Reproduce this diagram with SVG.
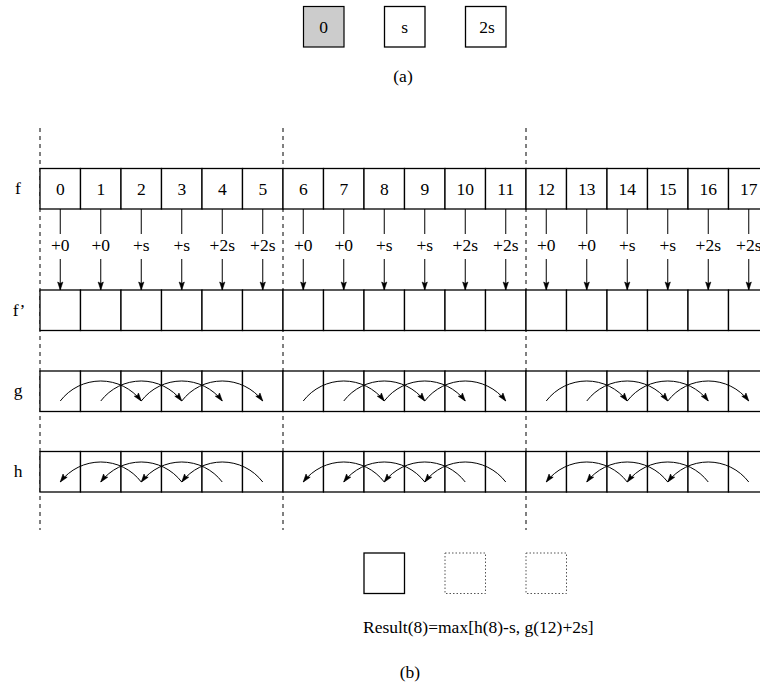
<svg xmlns="http://www.w3.org/2000/svg" width="760" height="688" viewBox="0 0 760 688">
<style>
text{font-family:'Liberation Serif','DejaVu Serif',serif;font-size:17.5px;fill:#000;text-anchor:middle}
.c{fill:#fff;stroke:#000;stroke-width:1.3}
.dot{fill:#fff;stroke:#555;stroke-width:1;stroke-dasharray:1.5 2}
.dash{stroke:#000;stroke-width:1;stroke-dasharray:4 4;fill:none}
.ln{stroke:#000;stroke-width:1;fill:none}
.ar{stroke:#000;stroke-width:1;fill:none;marker-end:url(#ah)}
</style>
<defs>
<marker id="ah" viewBox="-9 -4 10 8" refX="0" refY="0" markerWidth="10" markerHeight="8" markerUnits="userSpaceOnUse" orient="auto">
<path d="M0,0 L-8,-2.6 L-6.5,0 L-8,2.6 z" fill="#000" stroke="#000" stroke-width="0.6"/>
</marker>
</defs>
<rect width="760" height="688" fill="#fff"/>

<g id="legend">
<g id="box0"><rect x="303.5" y="6.5" width="40.5" height="40.5" fill="#cccccc" stroke="#000" stroke-width="1.2"/><text x="323.7" y="33">0</text></g>
<g id="boxs"><rect x="384.5" y="6.5" width="40.5" height="40.5" class="c"/><text x="404.7" y="33">s</text></g>
<g id="box2s"><rect x="465.5" y="6.5" width="40.5" height="40.5" class="c"/><text x="487" y="33">2s</text></g>
<text id="label-a" x="403" y="82">(a)</text>
</g>

<g id="separators">
<line class="dash" x1="40" y1="128" x2="40" y2="530"/>
<line class="dash" x1="283" y1="128" x2="283" y2="530"/>
<line class="dash" x1="526" y1="128" x2="526" y2="530"/>
</g>

<g id="row-labels">
<text x="18" y="194">f</text>
<text x="19" y="316">f’</text>
<text x="18" y="396">g</text>
<text x="18" y="477">h</text>
</g>

<g id="row-f">
<g id="f0"><rect class="c" x="40" y="168.5" width="40.5" height="40.5"/><text x="60.25" y="195">0</text></g>
<g id="f1"><rect class="c" x="80.5" y="168.5" width="40.5" height="40.5"/><text x="100.75" y="195">1</text></g>
<g id="f2"><rect class="c" x="121" y="168.5" width="40.5" height="40.5"/><text x="141.25" y="195">2</text></g>
<g id="f3"><rect class="c" x="161.5" y="168.5" width="40.5" height="40.5"/><text x="181.75" y="195">3</text></g>
<g id="f4"><rect class="c" x="202" y="168.5" width="40.5" height="40.5"/><text x="222.25" y="195">4</text></g>
<g id="f5"><rect class="c" x="242.5" y="168.5" width="40.5" height="40.5"/><text x="262.75" y="195">5</text></g>
<g id="f6"><rect class="c" x="283" y="168.5" width="40.5" height="40.5"/><text x="303.25" y="195">6</text></g>
<g id="f7"><rect class="c" x="323.5" y="168.5" width="40.5" height="40.5"/><text x="343.75" y="195">7</text></g>
<g id="f8"><rect class="c" x="364" y="168.5" width="40.5" height="40.5"/><text x="384.25" y="195">8</text></g>
<g id="f9"><rect class="c" x="404.5" y="168.5" width="40.5" height="40.5"/><text x="424.75" y="195">9</text></g>
<g id="f10"><rect class="c" x="445" y="168.5" width="40.5" height="40.5"/><text x="465.25" y="195">10</text></g>
<g id="f11"><rect class="c" x="485.5" y="168.5" width="40.5" height="40.5"/><text x="505.75" y="195">11</text></g>
<g id="f12"><rect class="c" x="526" y="168.5" width="40.5" height="40.5"/><text x="546.25" y="195">12</text></g>
<g id="f13"><rect class="c" x="566.5" y="168.5" width="40.5" height="40.5"/><text x="586.75" y="195">13</text></g>
<g id="f14"><rect class="c" x="607" y="168.5" width="40.5" height="40.5"/><text x="627.25" y="195">14</text></g>
<g id="f15"><rect class="c" x="647.5" y="168.5" width="40.5" height="40.5"/><text x="667.75" y="195">15</text></g>
<g id="f16"><rect class="c" x="688" y="168.5" width="40.5" height="40.5"/><text x="708.25" y="195">16</text></g>
<g id="f17"><rect class="c" x="728.5" y="168.5" width="40.5" height="40.5"/><text x="748.75" y="195">17</text></g>
</g>

<g id="row-fp">
<rect id="fp0" class="c" x="40" y="290" width="40.5" height="40.5"/>
<rect id="fp1" class="c" x="80.5" y="290" width="40.5" height="40.5"/>
<rect id="fp2" class="c" x="121" y="290" width="40.5" height="40.5"/>
<rect id="fp3" class="c" x="161.5" y="290" width="40.5" height="40.5"/>
<rect id="fp4" class="c" x="202" y="290" width="40.5" height="40.5"/>
<rect id="fp5" class="c" x="242.5" y="290" width="40.5" height="40.5"/>
<rect id="fp6" class="c" x="283" y="290" width="40.5" height="40.5"/>
<rect id="fp7" class="c" x="323.5" y="290" width="40.5" height="40.5"/>
<rect id="fp8" class="c" x="364" y="290" width="40.5" height="40.5"/>
<rect id="fp9" class="c" x="404.5" y="290" width="40.5" height="40.5"/>
<rect id="fp10" class="c" x="445" y="290" width="40.5" height="40.5"/>
<rect id="fp11" class="c" x="485.5" y="290" width="40.5" height="40.5"/>
<rect id="fp12" class="c" x="526" y="290" width="40.5" height="40.5"/>
<rect id="fp13" class="c" x="566.5" y="290" width="40.5" height="40.5"/>
<rect id="fp14" class="c" x="607" y="290" width="40.5" height="40.5"/>
<rect id="fp15" class="c" x="647.5" y="290" width="40.5" height="40.5"/>
<rect id="fp16" class="c" x="688" y="290" width="40.5" height="40.5"/>
<rect id="fp17" class="c" x="728.5" y="290" width="40.5" height="40.5"/>
</g>

<g id="row-g">
<rect id="g0" class="c" x="40" y="371" width="40.5" height="40.5"/>
<rect id="g1" class="c" x="80.5" y="371" width="40.5" height="40.5"/>
<rect id="g2" class="c" x="121" y="371" width="40.5" height="40.5"/>
<rect id="g3" class="c" x="161.5" y="371" width="40.5" height="40.5"/>
<rect id="g4" class="c" x="202" y="371" width="40.5" height="40.5"/>
<rect id="g5" class="c" x="242.5" y="371" width="40.5" height="40.5"/>
<rect id="g6" class="c" x="283" y="371" width="40.5" height="40.5"/>
<rect id="g7" class="c" x="323.5" y="371" width="40.5" height="40.5"/>
<rect id="g8" class="c" x="364" y="371" width="40.5" height="40.5"/>
<rect id="g9" class="c" x="404.5" y="371" width="40.5" height="40.5"/>
<rect id="g10" class="c" x="445" y="371" width="40.5" height="40.5"/>
<rect id="g11" class="c" x="485.5" y="371" width="40.5" height="40.5"/>
<rect id="g12" class="c" x="526" y="371" width="40.5" height="40.5"/>
<rect id="g13" class="c" x="566.5" y="371" width="40.5" height="40.5"/>
<rect id="g14" class="c" x="607" y="371" width="40.5" height="40.5"/>
<rect id="g15" class="c" x="647.5" y="371" width="40.5" height="40.5"/>
<rect id="g16" class="c" x="688" y="371" width="40.5" height="40.5"/>
<rect id="g17" class="c" x="728.5" y="371" width="40.5" height="40.5"/>
</g>

<g id="row-h">
<rect id="h0" class="c" x="40" y="451.5" width="40.5" height="40.5"/>
<rect id="h1" class="c" x="80.5" y="451.5" width="40.5" height="40.5"/>
<rect id="h2" class="c" x="121" y="451.5" width="40.5" height="40.5"/>
<rect id="h3" class="c" x="161.5" y="451.5" width="40.5" height="40.5"/>
<rect id="h4" class="c" x="202" y="451.5" width="40.5" height="40.5"/>
<rect id="h5" class="c" x="242.5" y="451.5" width="40.5" height="40.5"/>
<rect id="h6" class="c" x="283" y="451.5" width="40.5" height="40.5"/>
<rect id="h7" class="c" x="323.5" y="451.5" width="40.5" height="40.5"/>
<rect id="h8" class="c" x="364" y="451.5" width="40.5" height="40.5"/>
<rect id="h9" class="c" x="404.5" y="451.5" width="40.5" height="40.5"/>
<rect id="h10" class="c" x="445" y="451.5" width="40.5" height="40.5"/>
<rect id="h11" class="c" x="485.5" y="451.5" width="40.5" height="40.5"/>
<rect id="h12" class="c" x="526" y="451.5" width="40.5" height="40.5"/>
<rect id="h13" class="c" x="566.5" y="451.5" width="40.5" height="40.5"/>
<rect id="h14" class="c" x="607" y="451.5" width="40.5" height="40.5"/>
<rect id="h15" class="c" x="647.5" y="451.5" width="40.5" height="40.5"/>
<rect id="h16" class="c" x="688" y="451.5" width="40.5" height="40.5"/>
<rect id="h17" class="c" x="728.5" y="451.5" width="40.5" height="40.5"/>
</g>

<g id="connectors">
<g id="f-to-fp">
<path class="ln" d="M60.25,209V234M100.75,209V234M141.25,209V234M181.75,209V234M222.25,209V234M262.75,209V234M303.25,209V234M343.75,209V234M384.25,209V234M424.75,209V234M465.25,209V234M505.75,209V234M546.25,209V234M586.75,209V234M627.25,209V234M667.75,209V234M708.25,209V234M748.75,209V234"/>
<path class="ar" d="M60.25,259V290"/>
<path class="ar" d="M100.75,259V290"/>
<path class="ar" d="M141.25,259V290"/>
<path class="ar" d="M181.75,259V290"/>
<path class="ar" d="M222.25,259V290"/>
<path class="ar" d="M262.75,259V290"/>
<path class="ar" d="M303.25,259V290"/>
<path class="ar" d="M343.75,259V290"/>
<path class="ar" d="M384.25,259V290"/>
<path class="ar" d="M424.75,259V290"/>
<path class="ar" d="M465.25,259V290"/>
<path class="ar" d="M505.75,259V290"/>
<path class="ar" d="M546.25,259V290"/>
<path class="ar" d="M586.75,259V290"/>
<path class="ar" d="M627.25,259V290"/>
<path class="ar" d="M667.75,259V290"/>
<path class="ar" d="M708.25,259V290"/>
<path class="ar" d="M748.75,259V290"/>
<text x="60.25" y="251">+0</text>
<text x="100.75" y="251">+0</text>
<text x="141.25" y="251">+s</text>
<text x="181.75" y="251">+s</text>
<text x="222.25" y="251">+2s</text>
<text x="262.75" y="251">+2s</text>
<text x="303.25" y="251">+0</text>
<text x="343.75" y="251">+0</text>
<text x="384.25" y="251">+s</text>
<text x="424.75" y="251">+s</text>
<text x="465.25" y="251">+2s</text>
<text x="505.75" y="251">+2s</text>
<text x="546.25" y="251">+0</text>
<text x="586.75" y="251">+0</text>
<text x="627.25" y="251">+s</text>
<text x="667.75" y="251">+s</text>
<text x="708.25" y="251">+2s</text>
<text x="748.75" y="251">+2s</text>
</g>
<g id="g-arcs">
<path class="ar" d="M60.25,401A51,51 0 0 1 141.25,401"/>
<path class="ar" d="M100.75,401A51,51 0 0 1 181.75,401"/>
<path class="ar" d="M141.25,401A51,51 0 0 1 222.25,401"/>
<path class="ar" d="M181.75,401A51,51 0 0 1 262.75,401"/>
<path class="ar" d="M303.25,401A51,51 0 0 1 384.25,401"/>
<path class="ar" d="M343.75,401A51,51 0 0 1 424.75,401"/>
<path class="ar" d="M384.25,401A51,51 0 0 1 465.25,401"/>
<path class="ar" d="M424.75,401A51,51 0 0 1 505.75,401"/>
<path class="ar" d="M546.25,401A51,51 0 0 1 627.25,401"/>
<path class="ar" d="M586.75,401A51,51 0 0 1 667.75,401"/>
<path class="ar" d="M627.25,401A51,51 0 0 1 708.25,401"/>
<path class="ar" d="M667.75,401A51,51 0 0 1 748.75,401"/>
</g>
<g id="h-arcs">
<path class="ar" d="M141.25,482A51,51 0 0 0 60.25,482"/>
<path class="ar" d="M181.75,482A51,51 0 0 0 100.75,482"/>
<path class="ar" d="M222.25,482A51,51 0 0 0 141.25,482"/>
<path class="ar" d="M262.75,482A51,51 0 0 0 181.75,482"/>
<path class="ar" d="M384.25,482A51,51 0 0 0 303.25,482"/>
<path class="ar" d="M424.75,482A51,51 0 0 0 343.75,482"/>
<path class="ar" d="M465.25,482A51,51 0 0 0 384.25,482"/>
<path class="ar" d="M505.75,482A51,51 0 0 0 424.75,482"/>
<path class="ar" d="M627.25,482A51,51 0 0 0 546.25,482"/>
<path class="ar" d="M667.75,482A51,51 0 0 0 586.75,482"/>
<path class="ar" d="M708.25,482A51,51 0 0 0 627.25,482"/>
<path class="ar" d="M748.75,482A51,51 0 0 0 667.75,482"/>
</g>
</g>

<g id="result">
<rect id="res-box1" x="364" y="553" width="40.5" height="40.5" class="c"/>
<rect id="res-box2" x="445" y="553" width="40.5" height="40.5" class="dot"/>
<rect id="res-box3" x="526" y="553" width="40.5" height="40.5" class="dot"/>
<text x="363" y="633" style="text-anchor:start">Result(8)=max[h(8)-s, g(12)+2s]</text>
<text id="label-b" x="410" y="678">(b)</text>
</g>
</svg>
